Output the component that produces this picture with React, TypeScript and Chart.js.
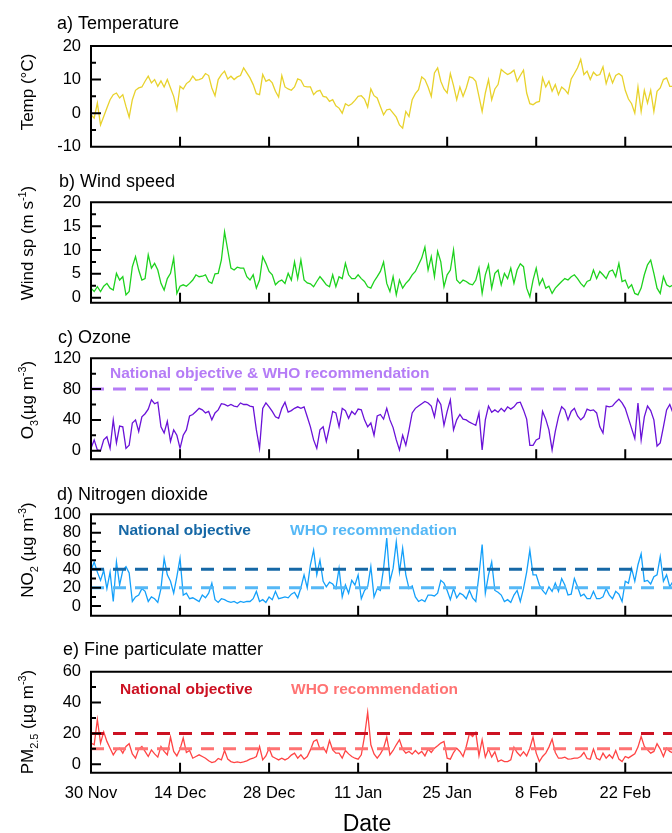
import React, { useEffect, useRef } from 'react';
import { Chart, registerables } from 'chart.js';

Chart.register(...registerables);

// ---------- data (half-day samples starting 30 Nov) ----------
const STEP_DAYS = 0.5;
const xTickValues = [0, 14, 28, 42, 56, 70, 84];
const xTickLabels = ['30 Nov', '14 Dec', '28 Dec', '11 Jan', '25 Jan', '8 Feb', '22 Feb'];

const temperature = [
  -0.5, -1.5, 3, -3.5, -1, 1.5, 4, 5.5, 6, 4.5, 5.5, 2, -1.2, 4, 6.8, 7.5, 7.8, 9.5, 11, 9,
  10, 8, 9.6, 7.8, 10, 7.5, 5, 1, 8, 7.2, 8.8, 9.5, 11, 9.8, 10, 10.4, 11.8, 11.2, 7.5, 5.2,
  10, 11.5, 12.5, 10.2, 11, 10, 10.8, 11.2, 13.5, 12, 10.5, 8.5, 5.8, 5.5, 11.5, 9.5, 10, 9, 6.5, 4.8,
  11.2, 7.8, 7.2, 6.8, 7.8, 10.2, 9.8, 8, 7.8, 7.8, 5.5, 6.5, 6.8, 5, 4.8, 3.5, 4, 2.2,
  1.5, 0, 2.8, 2.2, 2.8, 3.8, 5, 5.2, 4.2, 1.8, 7.2, 5.2, 4.5, 2, -0.5, 1, 1.2, 0, -1.2, -3.5,
  -4.5, 0.5, -1, 4, 5.8, 7, 10.8, 10, 7.8, 5, 12, 13.5, 9.5, 7.2, 6, 11.8, 8.2, 4, 7.8, 5,
  7.5, 10.8, 10.5, 9.5, 5, 0.5, 6, 10, 4, 7.2, 8.5, 13, 12.2, 11.5, 12, 12.8, 9.5, 11.2, 12.8, 6,
  2.8, 2.5, 3.2, 3.5, 10.5, 7.8, 9.5, 6.5, 8.5, 5.5, 7.8, 7, 5.8, 10.2, 11.8, 13.5, 16, 11.5, 12.5, 10,
  12.2, 11.2, 11.5, 13.8, 8.8, 11.8, 9, 11.2, 11.8, 11, 6.8, 4.2, 2.8, 0, 7.8, 0.5, 6.8, 3, 6.8, 0.5,
  6.5, 7.5, 10, 10.5, 8, 8,
];

const windSpeed = [
  2.0, 1.3, 2.3, 1.3, 2.4, 3.0, 2.0, 1.6, 5.1, 3.7, 4.4, 0.6, 1.3, 6.5, 8.6, 5.8, 3.7, 4.0, 9.0, 6.2,
  7.2, 5.8, 3.0, 1.6, 4.0, 5.1, 8.3, 0.9, 2.4, 2.7, 2.4, 3.0, 3.7, 4.8, 4.4, 4.5, 4.8, 3.4, 3.0, 5.0,
  5.1, 7.9, 13.8, 10.0, 6.2, 5.8, 6.4, 6.2, 6.2, 4.4, 3.7, 4.8, 2.0, 3.7, 8.6, 7.2, 5.5, 4.8, 2.7, 3.4,
  3.7, 3.0, 5.1, 3.7, 7.5, 4.0, 7.9, 3.7, 3.1, 2.9, 2.3, 3.4, 4.4, 3.6, 2.7, 2.3, 4.8, 2.3,
  4.4, 4.0, 7.2, 4.8, 4.0, 4.0, 4.8, 4.0, 3.4, 2.3, 2.0, 3.4, 4.4, 5.5, 7.5, 3.0, 1.3, 4.4, 0.6, 3.7,
  2.0, 3.0, 3.7, 4.8, 5.5, 6.9, 8.3, 10.6, 5.8, 8.6, 4.4, 9.7, 7.5, 2.3, 4.8, 5.8, 10.0, 3.7, 3.0, 3.7,
  3.4, 2.9, 2.7, 3.7, 6.2, 0.9, 4.8, 6.9, 2.0, 5.1, 5.8, 2.7, 5.1, 4.0, 6.2, 3.0, 5.8, 7.1, 6.5, 2.0,
  0.2, 3.7, 6.2, 2.7, 4.0, 2.0, 2.4, 0.9, 2.0, 2.7, 3.4, 4.0, 3.7, 4.4, 4.8, 4.0, 3.0, 2.3, 3.4, 3.7,
  5.8, 4.0, 5.5, 4.8, 4.0, 5.5, 5.8, 4.4, 7.2, 3.4, 3.7, 2.0, 2.7, 0.9, 0.6, 2.0, 4.8, 6.9, 7.9, 5.1,
  2.0, 0.9, 4.4, 2.7, 2.3, 2.7,
];

const ozone = [
  3, 14, 1, 0, 14, 18, 3, 40, 10, 32, 31, 3, 7, 36, 40, 25, 44, 48, 54, 66,
  61, 63, 31, 23, 38, 12, 27, 20, 3, 20, 27, 45, 47, 51, 55, 53, 49, 51, 40, 49,
  53, 61, 60, 58, 60, 58, 57, 62, 60, 60, 58, 57, 27, 3, 55, 62, 57, 51, 44, 42,
  55, 63, 50, 52, 55, 57, 55, 57, 44, 31, 14, 3, 27, 31, 12, 31, 51, 49,
  31, 55, 52, 42, 51, 47, 54, 53, 40, 31, 36, 20, 45, 47, 41, 55, 40, 30, 14, 1,
  20, 7, 27, 49, 55, 58, 61, 64, 62, 58, 44, 67, 60, 33, 51, 66, 27, 40, 47, 41,
  40, 37, 35, 33, 49, 1, 40, 58, 50, 53, 50, 55, 51, 57, 54, 57, 62, 63, 53, 41,
  7, 7, 14, 16, 51, 41, 27, 1, 25, 44, 57, 53, 40, 51, 55, 45, 40, 44, 54, 52,
  53, 49, 31, 23, 58, 57, 58, 63, 67, 62, 55, 42, 29, 16, 62, 14, 44, 58, 52, 40,
  6, 10, 31, 53, 60, 49,
];

const no2 = [
  39, 48, 37, 28, 39, 19, 37, 5, 48, 23, 39, 43, 36, 5, 10, 12, 19, 16, 5, 10,
  8, 4, 19, 52, 34, 27, 14, 32, 52, 12, 14, 8, 9, 7, 5, 12, 9, 14, 25, 7,
  4, 8, 7, 5, 4, 5, 3, 5, 4, 5, 5, 8, 16, 5, 7, 4, 10, 7, 16, 8,
  9, 10, 9, 13, 15, 9, 20, 34, 20, 45, 61, 34, 50, 27, 21, 26, 24, 19,
  41, 10, 23, 14, 28, 23, 34, 8, 17, 21, 43, 10, 19, 17, 41, 74, 27, 41, 70, 37,
  63, 34, 19, 22, 10, 5, 7, 5, 12, 12, 11, 14, 28, 25, 17, 7, 19, 9, 14, 12,
  8, 17, 9, 5, 34, 67, 14, 34, 48, 17, 15, 12, 5, 7, 4, 12, 17, 5, 19, 37,
  61, 34, 34, 23, 17, 13, 21, 16, 25, 16, 30, 23, 12, 13, 30, 21, 11, 13, 8, 8,
  16, 8, 8, 10, 19, 12, 8, 16, 13, 5, 27, 25, 41, 27, 45, 57, 27, 28, 24, 32,
  34, 54, 27, 34, 21, 27,
];

const pm25 = [
  13.7, 12.6, 29, 13.7, 21, 14.8, 10.4, 6.1, 9.3, 10.4, 7.2, 11.5, 13.3, 6.7, 3.9, 9.8, 11.5, 8.3, 5, 9.3,
  6.7, 4.6, 11.5, 8.3, 6.1, 17.6, 8.3, 5.4, 9.8, 17, 7.6, 8.9, 3.9, 5, 6.1, 5, 3.9, 2.2, 1.1, 1.7,
  3.7, 2.8, 8.9, 3.3, 1.7, 1.1, 1.5, 1.1, 1.5, 2.2, 3.3, 3.9, 5, 11.5, 2.8, 5.4, 10.4, 5, 3.9, 2.8,
  3.9, 2.8, 3.9, 5.9, 7.2, 3.9, 6.1, 3.3, 5, 9.3, 14.8, 15.9, 9.8, 11.1, 7.6, 15.4, 9.3, 7.2,
  7.2, 3.9, 8.9, 6.7, 5, 3.9, 3.3, 6.1, 18, 33.7, 12.6, 6.7, 3.9, 6.7, 10.4, 17.6, 6.1, 8.9, 12.6, 15.9,
  9.8, 7.2, 8.3, 6.5, 8.9, 6.7, 8.3, 5.4, 9.8, 7.6, 10.4, 12, 13.7, 14.8, 3.9, 3.3, 7.6, 10.4, 8.3, 5,
  11.5, 19.8, 18, 20.7, 5.4, 15.9, 4.6, 9.8, 4.6, 8, 1.7, 2.8, 1.7, 1.7, 2.8, 11.1, 7.6, 5.4, 8, 5.4,
  10.4, 17.6, 7.2, 1.7, 5, 7.2, 11.1, 16.3, 7.6, 3.9, 3.9, 4.6, 3.3, 3.5, 3.9, 3.9, 5, 7.6, 3.7, 3.3,
  9.8, 3.9, 2.8, 7.2, 3.9, 6.1, 3.9, 8.9, 3.3, 1.7, 5, 4.1, 5.4, 6.7, 11.1, 18, 11.5, 9.3, 7.2, 8.3,
  13.3, 9.8, 5, 10.4, 8.3, 7.2,
];

// y-axis tick values
const tempTicks = [-10, 0, 10, 20];
const tempMinor = [-5, 5, 15];
const windTicks = [0, 5, 10, 15, 20];
const windMinor = [2.5, 7.5, 12.5, 17.5];
const ozoneTicks = [0, 40, 80, 120];
const ozoneMinor = [20, 60, 100];
const no2Ticks = [0, 20, 40, 60, 80, 100];
const no2Minor = [10, 30, 50, 70, 90];
const pmTicks = [0, 20, 40, 60];
const pmMinor = [10, 30, 50];

// guideline values
const ozoneObjective = 80;
const no2National = 40;
const no2WHO = 20;
const pmNational = 20;
const pmWHO = 10;

// ---------- layout / style ----------
const W = 672;
const H = 833;
const X_MAX = 91.35;
const FONT = '"Liberation Sans", Arial, Helvetica, sans-serif';

type Seg = { t: string; k: 'n' | 'sub' | 'sup' };
type Ref = { value: number; color: string };
type Label = { text: string; x: number; y: number; color: string };
type Panel = {
  key: string;
  title: string;
  titleX: number;
  titleY: number;
  yTitle: Seg[];
  yTitleX: number;
  yTitleY: number;
  top: number;
  bottom: number;
  yMin: number;
  yMax: number;
  yTicks: number[];
  yMinor: number[];
  series: number[];
  color: string;
  refs: Ref[];
  labels: Label[];
};

const panels: Panel[] = [
  {
    key: 'a', title: 'a) Temperature', titleX: 57, titleY: 28.5,
    yTitle: [{ t: 'Temp (°C)', k: 'n' }], yTitleX: 27, yTitleY: 92,
    top: 46, bottom: 146.7, yMin: -10, yMax: 20, yTicks: tempTicks, yMinor: tempMinor,
    series: temperature, color: '#e8d22c', refs: [], labels: [],
  },
  {
    key: 'b', title: 'b) Wind speed', titleX: 59, titleY: 186.5,
    yTitle: [{ t: 'Wind sp (m s', k: 'n' }, { t: '-1', k: 'sup' }, { t: ')', k: 'n' }], yTitleX: 27, yTitleY: 243,
    top: 202.3, bottom: 302.7, yMin: -1.05, yMax: 20, yTicks: windTicks, yMinor: windMinor,
    series: windSpeed, color: '#1ed21e', refs: [], labels: [],
  },
  {
    key: 'c', title: 'c) Ozone', titleX: 58, titleY: 343,
    yTitle: [{ t: 'O', k: 'n' }, { t: '3', k: 'sub' }, { t: '(µg m', k: 'n' }, { t: '-3', k: 'sup' }, { t: ')', k: 'n' }], yTitleX: 27, yTitleY: 400,
    top: 358.3, bottom: 459.3, yMin: -11.2, yMax: 120, yTicks: ozoneTicks, yMinor: ozoneMinor,
    series: ozone, color: '#6a12d8',
    refs: [{ value: ozoneObjective, color: '#b57cf6' }],
    labels: [{ text: 'National objective & WHO recommendation', x: 110, y: 373.3, color: '#b57cf6' }],
  },
  {
    key: 'd', title: 'd) Nitrogen dioxide', titleX: 57, titleY: 500,
    yTitle: [{ t: 'NO', k: 'n' }, { t: '2', k: 'sub' }, { t: ' (µg m', k: 'n' }, { t: '-3', k: 'sup' }, { t: ')', k: 'n' }], yTitleX: 27, yTitleY: 550,
    top: 514.3, bottom: 615.7, yMin: -10.5, yMax: 100, yTicks: no2Ticks, yMinor: no2Minor,
    series: no2, color: '#14a0fa',
    refs: [{ value: no2National, color: '#1668a6' }, { value: no2WHO, color: '#55b8f6' }],
    labels: [
      { text: 'National objective', x: 118.3, y: 531, color: '#1668a6' },
      { text: 'WHO recommendation', x: 290, y: 531, color: '#55b8f6' },
    ],
  },
  {
    key: 'e', title: 'e) Fine particulate matter', titleX: 63, titleY: 654.5,
    yTitle: [{ t: 'PM', k: 'n' }, { t: '2.5', k: 'sub' }, { t: ' (µg m', k: 'n' }, { t: '-3', k: 'sup' }, { t: ')', k: 'n' }], yTitleX: 27, yTitleY: 722,
    top: 671.7, bottom: 772.7, yMin: -5.5, yMax: 60, yTicks: pmTicks, yMinor: pmMinor,
    series: pm25, color: '#ff4444',
    refs: [{ value: pmNational, color: '#cc1122' }, { value: pmWHO, color: '#ff7373' }],
    labels: [
      { text: 'National objective', x: 120, y: 690, color: '#cc1122' },
      { text: 'WHO recommendation', x: 291, y: 690, color: '#ff7373' },
    ],
  },
];

function drawRich(ctx: CanvasRenderingContext2D, segs: Seg[], cx: number, cy: number, size: number) {
  const small = size * 0.64;
  ctx.save();
  ctx.translate(cx, cy);
  ctx.rotate(-Math.PI / 2);
  ctx.textAlign = 'left';
  ctx.textBaseline = 'alphabetic';
  ctx.fillStyle = '#000';
  const widths = segs.map((s) => {
    ctx.font = `${s.k === 'n' ? size : small}px ${FONT}`;
    return ctx.measureText(s.t).width;
  });
  const total = widths.reduce((a, b) => a + b, 0);
  let x = -total / 2;
  const base = size * 0.36;
  segs.forEach((s, i) => {
    ctx.font = `${s.k === 'n' ? size : small}px ${FONT}`;
    const dy = s.k === 'sub' ? size * 0.3 : s.k === 'sup' ? -size * 0.42 : 0;
    ctx.fillText(s.t, x, base + dy);
    x += widths[i];
  });
  ctx.restore();
}

function decorPlugin(p: Panel, isBottom: boolean) {
  return {
    id: 'decor_' + p.key,
    afterDraw(chart: any) {
      const ctx: CanvasRenderingContext2D = chart.ctx;
      const { left, right, top, bottom } = chart.chartArea;
      const xs = chart.scales.x;
      const ys = chart.scales.y;
      ctx.save();
      ctx.strokeStyle = '#000';
      ctx.lineWidth = 2;
      ctx.lineCap = 'butt';
      ctx.beginPath();
      ctx.moveTo(left - 1, top);
      ctx.lineTo(right + 2, top);
      ctx.moveTo(left, top - 1);
      ctx.lineTo(left, bottom + 1);
      ctx.moveTo(left - 1, bottom);
      ctx.lineTo(right + 2, bottom);
      xTickValues.forEach((v) => {
        const px = xs.getPixelForValue(v);
        ctx.moveTo(px, bottom);
        ctx.lineTo(px, bottom - 10);
      });
      p.yTicks.forEach((v) => {
        const py = ys.getPixelForValue(v);
        ctx.moveTo(left, py);
        ctx.lineTo(left + 10, py);
      });
      p.yMinor.forEach((v) => {
        const py = ys.getPixelForValue(v);
        ctx.moveTo(left, py);
        ctx.lineTo(left + 5, py);
      });
      ctx.stroke();

      ctx.fillStyle = '#000';
      ctx.textAlign = 'left';
      ctx.textBaseline = 'alphabetic';
      ctx.font = `18px ${FONT}`;
      ctx.fillText(p.title, p.titleX, p.titleY);

      drawRich(ctx, p.yTitle, p.yTitleX, p.yTitleY, 17);

      ctx.font = `bold 15.5px ${FONT}`;
      ctx.textBaseline = 'middle';
      p.labels.forEach((l) => {
        ctx.fillStyle = l.color;
        ctx.fillText(l.text, l.x, l.y);
      });

      if (isBottom) {
        ctx.fillStyle = '#000';
        ctx.textAlign = 'center';
        ctx.textBaseline = 'alphabetic';
        ctx.font = `23px ${FONT}`;
        ctx.fillText('Date', 367, 831);
      }
      ctx.restore();
    },
  };
}

function makeChart(canvas: HTMLCanvasElement, p: Panel, isBottom: boolean) {
  const xh = isBottom ? 40 : 0;
  const datasets: any[] = [
    ...p.refs.map((r) => ({
      data: [{ x: 0, y: r.value }, { x: X_MAX, y: r.value }],
      borderColor: r.color,
      borderWidth: 3,
      borderDash: [13, 9],
      pointRadius: 0,
      fill: false,
      order: 0,
    })),
    {
      data: p.series.map((v, i) => ({ x: i * STEP_DAYS, y: v })),
      borderColor: p.color,
      borderWidth: 1.3,
      pointRadius: 0,
      fill: false,
      tension: 0,
      order: 1,
    },
  ];
  return new Chart(canvas, {
    type: 'line',
    data: { datasets },
    options: {
      responsive: false,
      maintainAspectRatio: false,
      animation: false,
      devicePixelRatio: 1,
      events: [],
      layout: { padding: { left: 0, right: 0, top: p.top, bottom: H - p.bottom - xh } },
      plugins: { legend: { display: false }, tooltip: { enabled: false }, title: { display: false } },
      scales: {
        x: {
          type: 'linear',
          min: 0,
          max: X_MAX,
          grid: { display: false, drawTicks: false },
          border: { display: false },
          afterBuildTicks: (s: any) => {
            s.ticks = xTickValues.map((v) => ({ value: v }));
          },
          ticks: {
            display: isBottom,
            autoSkip: false,
            maxRotation: 0,
            minRotation: 0,
            padding: 11,
            color: '#000',
            font: { family: FONT, size: 16.5 },
            callback: (_v: any, i: number) => xTickLabels[i],
          },
          afterFit: (s: any) => {
            s.height = xh;
          },
        },
        y: {
          type: 'linear',
          min: p.yMin,
          max: p.yMax,
          grid: { display: false, drawTicks: false },
          border: { display: false },
          afterBuildTicks: (s: any) => {
            s.ticks = p.yTicks.map((v) => ({ value: v }));
          },
          ticks: {
            autoSkip: false,
            padding: 10,
            color: '#000',
            font: { family: FONT, size: 16.5 },
            callback: (v: any) => String(v),
          },
          afterFit: (s: any) => {
            s.width = 91;
          },
        },
      },
    } as any,
    plugins: [decorPlugin(p, isBottom)],
  });
}

export default function App() {
  const refs = useRef<(HTMLCanvasElement | null)[]>([]);
  useEffect(() => {
    const charts = panels.map((p, i) => makeChart(refs.current[i] as HTMLCanvasElement, p, i === panels.length - 1));
    return () => charts.forEach((c) => c.destroy());
  }, []);
  return (
    <div style={{ position: 'absolute', left: 0, top: 0, width: W, height: H, overflow: 'hidden', background: '#fff' }}>
      {panels.map((p, i) => (
        <canvas
          key={p.key}
          ref={(el) => {
            refs.current[i] = el;
          }}
          width={W}
          height={H}
          style={{ position: 'absolute', left: 0, top: 0, width: W, height: H }}
        />
      ))}
    </div>
  );
}
